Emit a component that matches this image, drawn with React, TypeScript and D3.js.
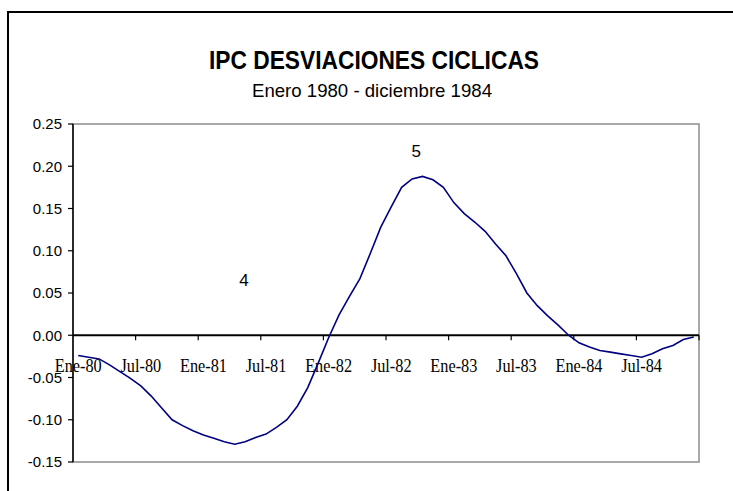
import React from "react";
import * as d3 from "d3";

const months = ["Ene", "Feb", "Mar", "Abr", "May", "Jun", "Jul", "Ago", "Sep", "Oct", "Nov", "Dic"];
const years = ["80", "81", "82", "83", "84"];
const categories: string[] = years.flatMap((y) => months.map((m) => `${m}-${y}`));

const ipcValues: number[] = [
  -0.024, -0.026, -0.028, -0.035, -0.043, -0.051, -0.060, -0.072, -0.086, -0.100,
  -0.107, -0.113, -0.118, -0.122, -0.126, -0.129, -0.126, -0.121, -0.117, -0.109,
  -0.100, -0.084, -0.062, -0.033, -0.003, 0.024, 0.046, 0.067, 0.097, 0.128,
  0.152, 0.175, 0.185, 0.188, 0.184, 0.175, 0.157, 0.144, 0.134, 0.123,
  0.108, 0.094, 0.073, 0.050, 0.035, 0.023, 0.012, 0.000, -0.009, -0.014,
  -0.018, -0.020, -0.022, -0.024, -0.026, -0.022, -0.016, -0.012, -0.005, -0.002,
];

const yTicks: number[] = [0.25, 0.2, 0.15, 0.1, 0.05, 0.0, -0.05, -0.1, -0.15];
const xLabelIndices: number[] = [0, 6, 12, 18, 24, 30, 36, 42, 48, 54];
const xTickBoundaries: number[] = [6, 12, 18, 24, 30, 36, 42, 48, 54, 60];

const annotations = [
  { label: "4", pos: 16.4, value: 0.058 },
  { label: "5", pos: 32.9, value: 0.211 },
];

const title = "IPC DESVIACIONES CICLICAS";
const subtitle = "Enero 1980 - diciembre 1984";

export default function App() {
  const W = 733;
  const H = 491;
  const left = 73, right = 699, top = 124, bottom = 462;

  const x = d3.scaleLinear().domain([0, categories.length]).range([left, right]);
  const y = d3.scaleLinear().domain([-0.15, 0.25]).range([bottom, top]);

  const line = d3
    .line<number>()
    .x((_, i) => x(i + 0.5))
    .y((d) => y(d));

  const sans = "'Liberation Sans', Arial, sans-serif";
  const serif = "'Liberation Serif', 'Times New Roman', serif";

  return (
    <svg width={W} height={H} style={{ position: "absolute", left: 0, top: 0 }}>
      <rect x={0} y={0} width={W} height={H} fill="#fff" />
      <rect x={8} y={12} width={W + 20} height={H + 20} fill="none" stroke="#000" strokeWidth={2} />

      <text x={374} y={69} textAnchor="middle" fontFamily={sans} fontWeight="bold" fontSize={25}
        textLength={330} lengthAdjust="spacingAndGlyphs">{title}</text>
      <text x={372} y={97} textAnchor="middle" fontFamily={sans} fontSize={19}
        textLength={240} lengthAdjust="spacingAndGlyphs">{subtitle}</text>

      {/* plot area border */}
      <rect x={left} y={top} width={right - left} height={bottom - top} fill="none" stroke="#8c8c8c" strokeWidth={1.5} />
      {/* y axis */}
      <line x1={left} x2={left} y1={top} y2={bottom} stroke="#000" strokeWidth={1.5} />
      {yTicks.map((t) => (
        <g key={t}>
          <line x1={left - 5} x2={left} y1={y(t)} y2={y(t)} stroke="#000" strokeWidth={1.2} />
          <text x={62} y={y(t)} dy="0.35em" textAnchor="end" fontFamily={sans} fontSize={15}>
            {t.toFixed(2)}
          </text>
        </g>
      ))}

      {/* x axis at zero */}
      <line x1={left} x2={right} y1={y(0)} y2={y(0)} stroke="#000" strokeWidth={2} />
      {xTickBoundaries.map((b) => (
        <line key={b} x1={x(b)} x2={x(b)} y1={y(0)} y2={y(0) + 5} stroke="#000" strokeWidth={1.2} />
      ))}
      {xLabelIndices.map((i) => (
        <text key={i} transform={`translate(${x(i + 0.5)},372) scale(0.88,1)`} textAnchor="middle"
          fontFamily={serif} fontSize={18.5}>
          {categories[i]}
        </text>
      ))}

      <path d={line(ipcValues) || ""} fill="none" stroke="#000080" strokeWidth={1.6} />

      {annotations.map((a) => (
        <text key={a.label} x={x(a.pos)} y={y(a.value)} textAnchor="middle" fontFamily={sans} fontSize={17}>
          {a.label}
        </text>
      ))}
    </svg>
  );
}
